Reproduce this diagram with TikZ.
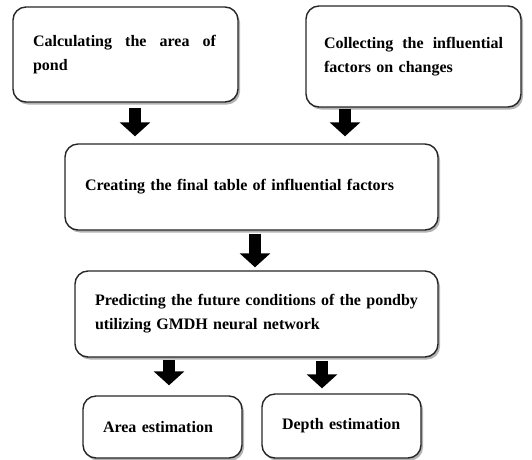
\documentclass[tikz,border=0pt]{standalone}
\usepackage{fontspec}
\setmainfont{Liberation Serif}
\usetikzlibrary{arrows.meta,shadows}
\begin{document}
\begin{tikzpicture}[x=1pt,y=-1pt,
  box/.style={draw=black!85, line width=1.4pt, rounded corners=13pt, fill=white,
    align=left, inner xsep=20pt, inner ysep=0pt,
    font=\bfseries\fontsize{16}{24}\selectfont,
    drop shadow={shadow xshift=2pt, shadow yshift=-2.5pt, fill=black!50, opacity=0.6}},
  blk/.style={line width=12pt, draw=black, -{Triangle[width=30pt,length=14pt]}}]
\useasboundingbox (0,0) rectangle (532,459);
\node[box, minimum width=225pt, minimum height=95pt, text width=185pt] (b1) at (125.5,54.5)
  {\hbox to 183pt{Calculating\hfill the\hfill area\hfill of}\\pond};
\node[box, minimum width=215pt, minimum height=101pt, inner xsep=18pt, text width=179pt] (b2) at (413.5,56.5)
  {\hbox to 179pt{Collecting\hfill the\hfill influential}\\factors on changes};
\node[box, minimum width=373pt, minimum height=86pt, text width=333pt] (b3) at (251.5,187)
  {Creating the final table of influential factors};
\node[box, minimum width=363pt, minimum height=86pt, text width=323pt] (b4) at (256.5,314)
  {Predicting the future conditions of the pondby\\utilizing GMDH neural network};
\node[box, minimum width=159pt, minimum height=62pt, text width=119pt] (b5) at (162.5,427)
  {Area estimation};
\node[box, minimum width=159pt, minimum height=64pt, text width=119pt] (b6) at (341.5,426)
  {Depth estimation};
\draw[blk] ([shift={(9.5,5)}]b1.south) -- ([shift={(-116.5,-7)}]b3.north);
\draw[blk] ([shift={(-68.5,1)}]b2.south) -- ([shift={(93.5,-7)}]b3.north);
\draw[blk] ([shift={(3.5,3)}]b3.south) -- ([shift={(-1.5,-3)}]b4.north);
\draw[blk] ([shift={(-87.5,2)}]b4.south) -- ([shift={(6.5,-10)}]b5.north);
\draw[blk] ([shift={(65.5,3)}]b4.south) -- ([shift={(-19.5,-5)}]b6.north);
\end{tikzpicture}
\end{document}
